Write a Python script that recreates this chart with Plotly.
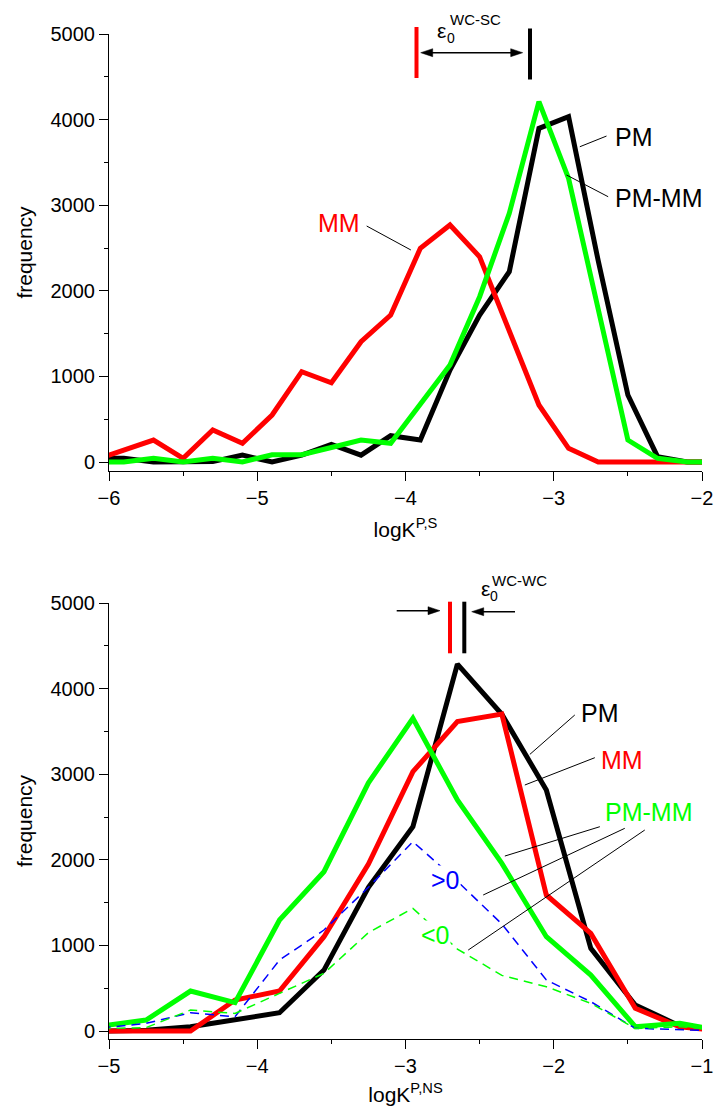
import plotly.graph_objects as go

# ---------------- data ----------------
# top panel: logK^{P,S}
x_top = [-6.1, -5.9, -5.7, -5.5, -5.3, -5.1, -4.9, -4.7, -4.5, -4.3, -4.1,
         -3.9, -3.7, -3.5, -3.3, -3.1, -2.9, -2.7, -2.5, -2.3, -2.1, -1.9]
pm_top = [40, 45, 0, 0, 5, 80, 0, 80, 205, 80, 307,
          257, 1075, 1717, 2223, 3897, 4034, 2350, 783, 62, 0, 0]
mm_top = [20, 140, 257, 43, 374, 218, 549, 1055, 926, 1405, 1717,
          2496, 2769, 2398, 1530, 666, 160, 0, 0, 0, 0, 0]
pmmm_top = [0, 0, 43, 0, 43, 0, 85, 85, 170, 257, 218,
            686, 1133, 1931, 2905, 4209, 3313, 1785, 257, 43, 0, 0]

# bottom panel: logK^{P,NS}
x_bot = [-5.05, -4.75, -4.45, -4.15, -3.85, -3.55, -3.25, -2.95, -2.65,
         -2.35, -2.05, -1.75, -1.45, -1.15, -0.85]
pm_bot = [0, 10, 50, 130, 214, 712, 1680, 2387, 4287, 3700, 2815, 966, 304, 60, 0]
mm_bot = [0, 0, 0, 362, 467, 1102, 1950, 3030, 3614, 3703, 1589, 1141, 265, 50, 0]
pmmm_bot = [60, 128, 467, 331, 1297, 1861, 2900, 3653, 2699, 1959, 1102, 654, 51, 90, 0]
pos_bot = [35, 90, 214, 167, 829, 1180, 1680, 2212, 1750, 1250, 596, 343, 32, 20, 0]
neg_bot = [28, 40, 245, 206, 440, 674, 1150, 1433, 958, 650, 518, 323, 30, 50, 10]

y_ticks = [0, 1000, 2000, 3000, 4000, 5000]

# ---------------- layout helpers ----------------
W, H = 714, 1106
ML, MR, MT, MB = 109, 12, 34, 67
PW, PH = W - ML - MR, H - MT - MB


def px(x):
    return (x - ML) / PW


def py(y):
    return (H - MB - y) / PH


FONT = "Liberation Sans, Arial, Helvetica, sans-serif"
RED, GREEN, BLUE, BLACK = "#ff0000", "#00ff00", "#0000ff", "#000000"

fig = go.Figure()

# top panel traces
fig.add_trace(go.Scatter(x=x_top, y=pm_top, mode="lines", name="PM",
                         line=dict(color=BLACK, width=5), xaxis="x", yaxis="y"))
fig.add_trace(go.Scatter(x=x_top, y=mm_top, mode="lines", name="MM",
                         line=dict(color=RED, width=5), xaxis="x", yaxis="y"))
fig.add_trace(go.Scatter(x=x_top, y=pmmm_top, mode="lines", name="PM-MM",
                         line=dict(color=GREEN, width=5), xaxis="x", yaxis="y"))

# bottom panel traces
fig.add_trace(go.Scatter(x=x_bot, y=pm_bot, mode="lines", name="PM",
                         line=dict(color=BLACK, width=5), xaxis="x2", yaxis="y2"))
fig.add_trace(go.Scatter(x=x_bot, y=mm_bot, mode="lines", name="MM",
                         line=dict(color=RED, width=5), xaxis="x2", yaxis="y2"))
fig.add_trace(go.Scatter(x=x_bot, y=pmmm_bot, mode="lines", name="PM-MM",
                         line=dict(color=GREEN, width=5), xaxis="x2", yaxis="y2"))
fig.add_trace(go.Scatter(x=x_bot, y=pos_bot, mode="lines", name=">0",
                         line=dict(color=BLUE, width=1.5, dash="9px,6px"),
                         xaxis="x2", yaxis="y2"))
fig.add_trace(go.Scatter(x=x_bot, y=neg_bot, mode="lines", name="<0",
                         line=dict(color=GREEN, width=1.5, dash="9px,6px"),
                         xaxis="x2", yaxis="y2"))

axis_common = dict(showgrid=False, zeroline=False, showline=True, linecolor=BLACK,
                   linewidth=1, ticks="outside", ticklen=9, tickwidth=1,
                   tickcolor=BLACK, tickfont=dict(family=FONT, size=20, color=BLACK),
                   automargin=False)

xminor = dict(ticks="outside", ticklen=4, tickwidth=1, tickcolor=BLACK, dtick=0.5)
yminor = dict(ticks="outside", ticklen=4, tickwidth=1, tickcolor=BLACK, dtick=500)

fig.update_layout(
    width=W, height=H, template="none",
    paper_bgcolor="white", plot_bgcolor="white",
    margin=dict(l=ML, r=MR, t=MT, b=MB),
    showlegend=False,
    font=dict(family=FONT, color=BLACK),
    xaxis=dict(axis_common, domain=[0, 1], range=[-6, -2], tickvals=[-6, -5, -4, -3, -2],
               minor=xminor, anchor="y",
               title=dict(text="logK<sup>P,S</sup>", font=dict(family=FONT, size=21),
                          standoff=14)),
    yaxis=dict(axis_common, domain=[py(471), 1], range=[-105, 5000], tickvals=y_ticks,
               minor=yminor, anchor="x",
               title=dict(text="frequency", font=dict(family=FONT, size=21), standoff=12)),
    xaxis2=dict(axis_common, domain=[0, 1], range=[-5, -1], tickvals=[-5, -4, -3, -2, -1],
                minor=xminor, anchor="y2",
                title=dict(text="logK<sup>P,NS</sup>", font=dict(family=FONT, size=21),
                           standoff=14)),
    yaxis2=dict(axis_common, domain=[0, py(603)], range=[-93, 5000], tickvals=y_ticks,
                minor=yminor, anchor="x2",
                title=dict(text="frequency", font=dict(family=FONT, size=21), standoff=12)),
)

ann = []
shapes = []


def label(text, x, y, color, xref, yref, size=25, bg=None):
    a = dict(text=text, x=x, y=y, xref=xref, yref=yref, showarrow=False,
             font=dict(family=FONT, size=size, color=color),
             xanchor="center", yanchor="middle")
    if bg:
        a.update(bgcolor=bg, borderpad=0)
    ann.append(a)


def ptext(text, x, y, size):
    ann.append(dict(text=text, x=px(x), y=py(y), xref="paper", yref="paper",
                    showarrow=False, xanchor="center", yanchor="middle",
                    font=dict(family=FONT, size=size, color=BLACK)))


def leader(x0, y0, x1, y1, xref, yref):
    shapes.append(dict(type="line", x0=x0, y0=y0, x1=x1, y1=y1, xref=xref, yref=yref,
                       line=dict(color=BLACK, width=1)))


def pline(x0, y0, x1, y1, color, width):
    shapes.append(dict(type="line", xref="paper", yref="paper", x0=px(x0), x1=px(x1),
                       y0=py(y0), y1=py(y1), line=dict(color=color, width=width)))


def head(tip_x, tip_y, direction, length=12, half=4):
    # direction: +1 pointing right, -1 pointing left
    bx = tip_x - direction * length
    path = (f"M {px(tip_x)},{py(tip_y)} L {px(bx)},{py(tip_y - half)} "
            f"L {px(bx)},{py(tip_y + half)} Z")
    shapes.append(dict(type="path", xref="paper", yref="paper", path=path,
                       fillcolor=BLACK, line=dict(color=BLACK, width=0.5)))


# ---- top panel labels ----
label("MM", -4.449, 2792, RED, "x", "y")
leader(-4.262, 2757, -3.964, 2477, "x", "y")
label("PM", -2.46, 3797, BLACK, "x", "y")
leader(-2.824, 3683, -2.644, 3808, "x", "y")
label("PM-MM", -2.295, 3084, BLACK, "x", "y")
leader(-2.914, 3353, -2.633, 3099, "x", "y")

# epsilon marker (top)
pline(416.5, 27, 416.5, 78, RED, 4)
pline(530, 28.5, 530, 79.5, BLACK, 4)
pline(425, 52.7, 518, 52.7, BLACK, 1.5)
head(420.7, 52.7, -1)
head(522.7, 52.7, +1)
ptext("ε", 441.7, 30.5, 21)
ptext("0", 450.8, 38.5, 14)
ptext("WC-SC", 475.5, 20, 15)

# ---- bottom panel labels ----
label("PM", -1.689, 3715, BLACK, "x2", "y2")
leader(-2.161, 3232, -1.858, 3692, "x2", "y2")
label("MM", -1.543, 3166, RED, "x2", "y2")
leader(-2.195, 2874, -1.723, 3193, "x2", "y2")
label("PM-MM", -1.359, 2558, GREEN, "x2", "y2")
leader(-2.330, 2044, -1.689, 2387, "x2", "y2")
leader(-2.476, 1589, -1.521, 2368, "x2", "y2")
leader(-2.577, 946, -1.386, 2348, "x2", "y2")
label("&gt;0", -2.728, 1764, BLUE, "x2", "y2", bg="white")
label("&lt;0", -2.795, 1121, GREEN, "x2", "y2", bg="white")

# epsilon marker (bottom)
pline(450, 601.7, 450, 653.3, RED, 4)
pline(464.3, 601.7, 464.3, 653.3, BLACK, 4)
pline(396.7, 610.7, 430, 610.7, BLACK, 1.5)
head(440, 610.7, +1)
pline(515, 611.7, 482, 611.7, BLACK, 1.5)
head(471.7, 611.7, -1)
ptext("ε", 485, 588.5, 21)
ptext("0", 494, 595.5, 14)
ptext("WC-WC", 519.5, 580, 15)

fig.update_layout(annotations=ann, shapes=shapes)

fig.write_html("out.html",
               config={"displayModeBar": False},
               post_script="document.body.style.margin='0px';"
                           "document.body.style.overflow='hidden';")
